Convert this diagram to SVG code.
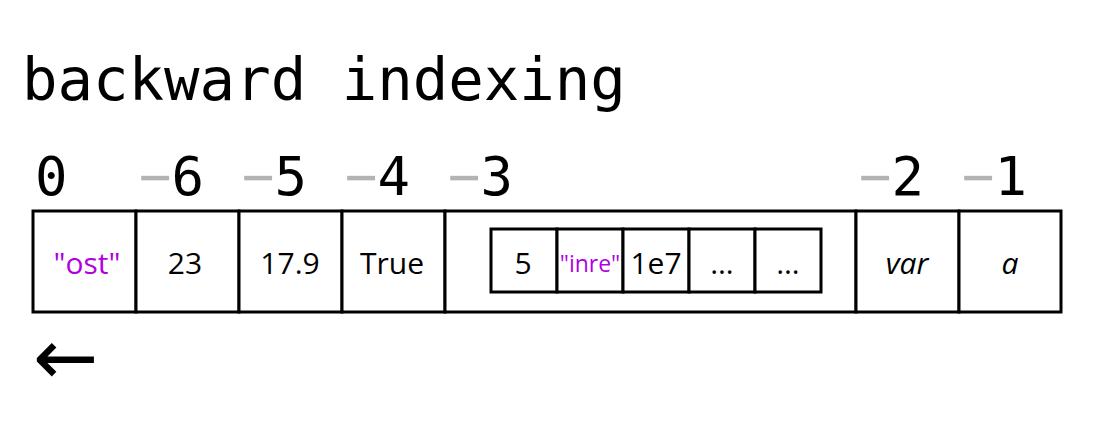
<svg xmlns="http://www.w3.org/2000/svg" width="1108" height="443" viewBox="0 0 1108 443">
<style>
.mono{font-family:"DejaVu Sans Mono","Liberation Mono",monospace;fill:#000}
.idx{font-size:54px}
.neg{fill:#b3b3b3}
.cell{fill:#fff;stroke:#000;stroke-width:3}
.t{font-family:"Open Sans","Noto Sans",sans-serif;font-size:30px;text-anchor:middle;fill:#000}
.s{fill:#b000e0}
.sm{font-size:23px}
.it{font-style:italic}
</style>
<rect width="1108" height="443" fill="#fff"/>
<text class="mono" x="22" y="100" font-size="59">backward indexing</text>
<g id="indices" class="mono idx">
<text x="35" y="195">0</text>
<text x="139" y="195"><tspan class="neg">−</tspan>6</text>
<text x="242" y="195"><tspan class="neg">−</tspan>5</text>
<text x="345" y="195"><tspan class="neg">−</tspan>4</text>
<text x="448" y="195"><tspan class="neg">−</tspan>3</text>
<text x="859" y="195"><tspan class="neg">−</tspan>2</text>
<text x="962" y="195"><tspan class="neg">−</tspan>1</text>
</g>
<g id="cell0"><rect class="cell" x="33" y="211" width="103" height="101"/><text class="t s" x="87" y="274">"ost"</text></g>
<g id="cell1"><rect class="cell" x="136" y="211" width="103" height="101"/><text class="t" x="185" y="274">23</text></g>
<g id="cell2"><rect class="cell" x="239" y="211" width="103" height="101"/><text class="t" x="290" y="274">17.9</text></g>
<g id="cell3"><rect class="cell" x="342" y="211" width="103" height="101"/><text class="t" x="392" y="274">True</text></g>
<g id="cell4"><rect class="cell" x="445" y="211" width="411" height="101"/>
<g id="inner0"><rect class="cell" x="491" y="229" width="66" height="63"/><text class="t" x="523" y="274">5</text></g>
<g id="inner1"><rect class="cell" x="557" y="229" width="66" height="63"/><text class="t s sm" x="590" y="272">"inre"</text></g>
<g id="inner2"><rect class="cell" x="623" y="229" width="66" height="63"/><text class="t" x="656" y="274">1e7</text></g>
<g id="inner3"><rect class="cell" x="689" y="229" width="66" height="63"/><text class="t" x="722" y="274">…</text></g>
<g id="inner4"><rect class="cell" x="755" y="229" width="66" height="63"/><text class="t" x="788" y="274">…</text></g>
</g>
<g id="cell5"><rect class="cell" x="856" y="211" width="103" height="101"/><text class="t it" x="907" y="274">var</text></g>
<g id="cell6"><rect class="cell" x="959" y="211" width="102" height="101"/><text class="t it" x="1010" y="274">a</text></g>
<g id="connectors"></g>
<text x="33" y="384" font-family="DejaVu Sans,sans-serif" font-size="78" fill="#000">←</text>
</svg>
